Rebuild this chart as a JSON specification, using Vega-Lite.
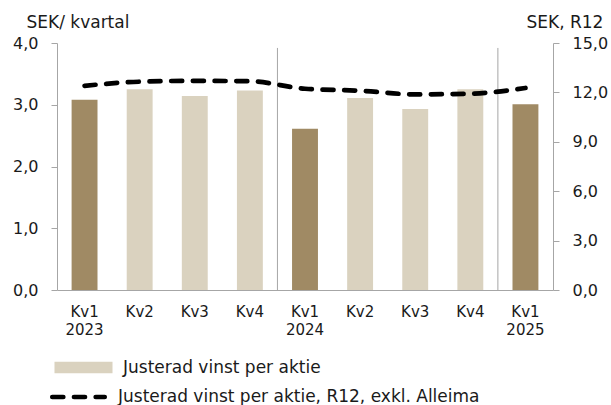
{
  "$schema": "https://vega.github.io/schema/vega-lite/v6.json",
  "width": 496,
  "height": 247,
  "autosize": {"type": "none"},
  "padding": {"left": 57, "top": 43, "right": 58, "bottom": 115},
  "background": "white",
  "config": {
    "view": {"stroke": null},
    "font": "DejaVu Sans",
    "axis": {
      "grid": false,
      "domainColor": "#A6A6A6",
      "tickColor": "#A6A6A6",
      "labelColor": "#1a1a1a",
      "titleColor": "#1a1a1a",
      "labelFont": "DejaVu Sans",
      "titleFont": "DejaVu Sans"
    },
    "legend": {"labelFont": "DejaVu Sans", "labelColor": "#1a1a1a", "labelLimit": 600}
  },
  "data": {
    "values": [
      {"period": "Kv1 2023", "kind": "Kv1", "eps": 3.08, "r12": 12.4},
      {"period": "Kv2 2023", "kind": "Justerad vinst per aktie", "eps": 3.25, "r12": 12.65},
      {"period": "Kv3 2023", "kind": "Justerad vinst per aktie", "eps": 3.14, "r12": 12.7},
      {"period": "Kv4 2023", "kind": "Justerad vinst per aktie", "eps": 3.23, "r12": 12.68},
      {"period": "Kv1 2024", "kind": "Kv1", "eps": 2.61, "r12": 12.22},
      {"period": "Kv2 2024", "kind": "Justerad vinst per aktie", "eps": 3.11, "r12": 12.1},
      {"period": "Kv3 2024", "kind": "Justerad vinst per aktie", "eps": 2.93, "r12": 11.88},
      {"period": "Kv4 2024", "kind": "Justerad vinst per aktie", "eps": 3.25, "r12": 11.92},
      {"period": "Kv1 2025", "kind": "Kv1", "eps": 3.01, "r12": 12.27}
    ]
  },
  "layer": [
    {
      "mark": {"type": "bar", "width": {"band": 0.47}},
      "encoding": {
        "x": {
          "field": "period",
          "type": "nominal",
          "sort": null,
          "scale": {"paddingInner": 0, "paddingOuter": 0},
          "axis": {
            "title": null,
            "orient": "bottom",
            "ticks": false,
            "tickSize": 0,
            "labelAngle": 0,
            "labelPadding": 14,
            "labelFontSize": 15,
            "labelLineHeight": 18,
            "labelExpr": "indexof(datum.value, 'Kv1') == 0 ? split(datum.value, ' ') : split(datum.value, ' ')[0]"
          }
        },
        "y": {
          "field": "eps",
          "type": "quantitative",
          "scale": {"domain": [0, 4]},
          "axis": {
            "orient": "left",
            "values": [0, 1, 2, 3, 4],
            "tickSize": 6,
            "labelPadding": 13,
            "labelFontSize": 16,
            "labelExpr": "replace(format(datum.value, '.1f'), '.', ',')",
            "title": "SEK/ kvartal",
            "titleAngle": 0,
            "titleAlign": "left",
            "titleBaseline": "alphabetic",
            "titleX": -31,
            "titleY": -16,
            "titleFontSize": 17,
            "titleFontWeight": "normal"
          }
        },
        "color": {
          "field": "kind",
          "type": "nominal",
          "scale": {"domain": ["Justerad vinst per aktie", "Kv1"], "range": ["#DAD2BF", "#A08A64"]},
          "legend": {
            "title": null,
            "values": ["Justerad vinst per aktie"],
            "orient": "none",
            "legendX": 18,
            "legendY": 316,
            "padding": 0,
            "symbolType": "M-5,-1H5V1H-5Z",
            "symbolSize": 134.6,
            "symbolStrokeWidth": 0,
            "symbolOpacity": 1,
            "labelFontSize": 17,
            "labelOffset": 31,
            "labelLimit": 600
          }
        }
      }
    },
    {
      "transform": [{"filter": "datum.kind == 'Kv1' && datum.period != 'Kv1 2023'"}],
      "mark": {"type": "rule", "color": "#A6A6A6", "strokeWidth": 1},
      "encoding": {
        "x": {"field": "period", "type": "nominal", "sort": null, "bandPosition": 0},
        "y": {"datum": 3.92, "type": "quantitative", "scale": {"domain": [0, 4]}, "axis": null},
        "y2": {"datum": 0}
      }
    },
    {
      "mark": {"type": "line", "interpolate": "monotone", "strokeWidth": 4.7, "strokeDash": [11, 10.7], "strokeCap": "round"},
      "encoding": {
        "x": {"field": "period", "type": "nominal", "sort": null},
        "y": {
          "field": "r12",
          "type": "quantitative",
          "scale": {"domain": [0, 15]},
          "axis": {
            "orient": "right",
            "values": [0, 3, 6, 9, 12, 15],
            "tickSize": 6,
            "labelPadding": 13,
            "labelFontSize": 16,
            "labelExpr": "replace(format(datum.value, '.1f'), '.', ',')",
            "title": "SEK, R12",
            "titleAngle": 0,
            "titleAlign": "left",
            "titleBaseline": "alphabetic",
            "titleX": -27,
            "titleY": -16,
            "titleFontSize": 17,
            "titleFontWeight": "normal"
          }
        },
        "stroke": {
          "datum": "Justerad vinst per aktie, R12, exkl. Alleima",
          "scale": {"range": ["#000000"]},
          "legend": {
            "title": null,
            "orient": "none",
            "legendX": -7.5,
            "legendY": 325,
            "padding": 0,
            "symbolType": "stroke",
            "symbolSize": 2746,
            "symbolStrokeWidth": 4.7,
            "symbolDash": [11, 10.7],
            "labelFontSize": 17,
            "labelOffset": 10.5,
            "labelLimit": 600,
            "encode": {"symbols": {"update": {"strokeCap": {"value": "round"}}}}
          }
        }
      }
    }
  ],
  "resolve": {"scale": {"y": "independent", "color": "independent", "stroke": "independent"}}
}
